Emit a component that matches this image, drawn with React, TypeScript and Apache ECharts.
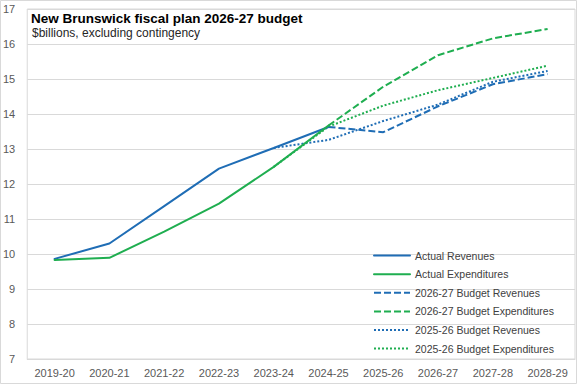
import React, { useEffect, useRef } from "react";
import * as echarts from "echarts";

const categories = ["2019-20", "2020-21", "2021-22", "2022-23", "2023-24", "2024-25", "2025-26", "2026-27", "2027-28", "2028-29"];
const actualRevenues = [9.86, 10.3, 11.37, 12.44, 13.03, 13.63, null, null, null, null];
const actualExpenditures = [9.83, 9.89, 10.64, 11.44, 12.49, 13.67, null, null, null, null];
const budget2627Revenues = [null, null, null, null, null, 13.63, 13.48, 14.22, 14.85, 15.14];
const budget2627Expenditures = [null, null, null, null, null, 13.67, 14.78, 15.68, 16.16, 16.43];
const budget2526Revenues = [null, null, null, null, 13.03, 13.26, 13.8, 14.27, 14.92, 15.23];
const budget2526Expenditures = [null, null, null, null, 12.49, 13.64, 14.24, 14.68, 15.03, 15.38];

const titleText = "New Brunswick fiscal plan 2026-27 budget";
const subtitleText = "$billions, excluding contingency";

const BLUE = "#1f6db5";
const GREEN = "#1fae50";
const FONT = "'Liberation Sans', Arial, sans-serif";

export default function App() {
  const ref = useRef<HTMLDivElement>(null);
  useEffect(() => {
    if (!ref.current) return;
    const chart = echarts.init(ref.current, undefined, { renderer: "svg" });
    const mk = (name: string, data: (number | null)[], color: string, type: any) => ({
      name,
      type: "line",
      data,
      symbol: "none",
      showSymbol: false,
      connectNulls: false,
      lineStyle: { color, width: 2, type, cap: type === "solid" ? "round" : "butt" },
      itemStyle: { color, opacity: 0 },
      z: type === "solid" ? 3 : 2,
    });
    chart.setOption({
      animation: false,
      backgroundColor: "#ffffff",
      textStyle: { fontFamily: FONT },
      title: [
        {
          text: titleText,
          left: 31,
          top: 11,
          padding: 0,
          textStyle: { fontFamily: FONT, fontSize: 13.5, fontWeight: "bold", color: "#000000" },
        },
        {
          text: subtitleText,
          left: 32,
          top: 27,
          padding: 0,
          textStyle: { fontFamily: FONT, fontSize: 12, fontWeight: "normal", color: "#262626" },
        },
      ],
      graphic: [
        {
          type: "rect",
          shape: { x: 0.5, y: 0.5, width: 576, height: 383 },
          style: { fill: "none", stroke: "#d9d9d9", lineWidth: 1 },
          silent: true,
          z: 0,
        },
      ],
      grid: {
        left: 25,
        right: 2,
        top: 9,
        bottom: 25,
        show: true,
        borderColor: "#d9d9d9",
        borderWidth: 1,
        containLabel: false,
      },
      legend: {
        orient: "vertical",
        left: 373,
        top: 250,
        itemWidth: 36,
        itemHeight: 14,
        itemGap: 7.4,
        padding: 0,
        itemStyle: { opacity: 0 },
        textStyle: { fontFamily: FONT, fontSize: 10.5, color: "#404040" },
        data: [
          "Actual Revenues",
          "Actual Expenditures",
          "2026-27 Budget Revenues",
          "2026-27 Budget Expenditures",
          "2025-26 Budget Revenues",
          "2025-26 Budget Expenditures",
        ],
      },
      xAxis: {
        type: "category",
        data: categories,
        boundaryGap: true,
        axisLine: { show: true, lineStyle: { color: "#d9d9d9" } },
        axisTick: { show: false },
        axisLabel: { fontFamily: FONT, fontSize: 11, color: "#595959", margin: 8 },
        splitLine: { show: false },
      },
      yAxis: {
        type: "value",
        min: 7,
        max: 17,
        interval: 1,
        axisLine: { show: false },
        axisTick: { show: false },
        axisLabel: { fontFamily: FONT, fontSize: 11, color: "#595959", margin: 12 },
        splitLine: { show: true, lineStyle: { color: "#d9d9d9", width: 1 } },
      },
      series: [
        mk("Actual Revenues", actualRevenues, BLUE, "solid"),
        mk("Actual Expenditures", actualExpenditures, GREEN, "solid"),
        mk("2026-27 Budget Revenues", budget2627Revenues, BLUE, [7, 3]),
        mk("2026-27 Budget Expenditures", budget2627Expenditures, GREEN, [7, 3]),
        mk("2025-26 Budget Revenues", budget2526Revenues, BLUE, [2, 2]),
        mk("2025-26 Budget Expenditures", budget2526Expenditures, GREEN, [2, 2]),
      ],
    });
    return () => chart.dispose();
  }, []);
  return (
    <div
      ref={ref}
      style={{ position: "fixed", left: 0, top: 0, width: 577, height: 384, background: "#fff" }}
    />
  );
}
